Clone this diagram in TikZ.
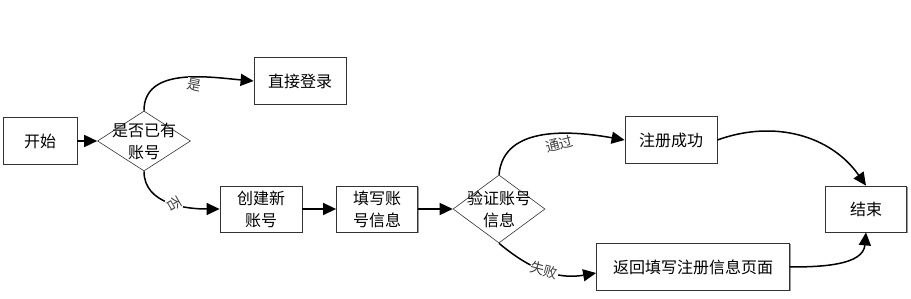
\documentclass[tikz,border=0pt]{standalone}
\usepackage{fontspec}
\setmainfont{Noto Sans CJK SC}
\usetikzlibrary{shapes.geometric,arrows.meta,shadows}
\begin{document}
\begin{tikzpicture}[x=1pt,y=-1pt,
  every node/.style={font=\fontsize{16}{22}\selectfont},
  box/.style={draw=black!80, line width=0.8pt, fill=white, inner sep=0pt, align=center,
    drop shadow={shadow xshift=1pt,shadow yshift=-1pt,fill=black!40,opacity=1}},
  dia/.style={draw=black!80, line width=0.6pt, shape=diamond, inner sep=0pt, fill=white},
  conn/.style={line width=1.5pt, -{Triangle[length=13pt,width=12pt]}},
  lbl/.style={font=\fontsize{14}{14}\selectfont, text=black!75, fill=white, inner sep=0.5pt}]
\useasboundingbox (0,0) rectangle (911,299);
% nodes
\node[box, minimum width=74pt, minimum height=47pt] (start) at (40,141) {开始};
\node[dia, minimum width=93pt, minimum height=60pt,
  label={[align=center,font=\fontsize{16}{22}\selectfont]center:是否已有\\账号}] (q1) at (144,141) {};
\node[box, minimum width=92pt, minimum height=47pt] (login) at (300,81) {直接登录};
\node[box, minimum width=82pt, minimum height=46pt] (create) at (261,209) {创建新\\账号};
\node[box, minimum width=81pt, minimum height=46pt] (fill) at (377,209) {填写账\\号信息};
\node[dia, minimum width=92pt, minimum height=68pt,
  label={[align=center,font=\fontsize{16}{22}\selectfont]center:验证账号\\信息}] (q2) at (499,209) {};
\node[box, minimum width=92pt, minimum height=47pt] (ok) at (671,140) {注册成功};
\node[box, minimum width=81pt, minimum height=46pt] (end) at (866,209) {结束};
\node[box, minimum width=193pt, minimum height=47pt] (back) at (693,267) {返回填写注册信息页面};
% connectors
\draw[conn] (start.east) -- (q1.west);
\draw[conn] (q1.north) to[out=90,in=175] node[lbl, pos=0.6, rotate=-12, below=1pt] {是} (login.west);
\draw[conn] (q1.south) to[out=-90,in=180] node[lbl, pos=0.55, rotate=-60] {否} (create.west);
\draw[conn] (create.east) -- (fill.west);
\draw[conn] (fill.east) -- (q2.west);
\draw[conn] (q2.north) to[out=85,in=170] node[lbl, pos=0.58, rotate=15, below=3pt] {通过} (ok.west);
\draw[conn] (ok.east) to[out=20,in=125] (end.north);
\draw[conn] (q2.south) to[out=-40,in=190] node[lbl, pos=0.5, rotate=-15] {失败} ([yshift=-6pt]back.west);
\draw[conn] (back.east) to[out=0,in=-95] (end.south);
\end{tikzpicture}
\end{document}
